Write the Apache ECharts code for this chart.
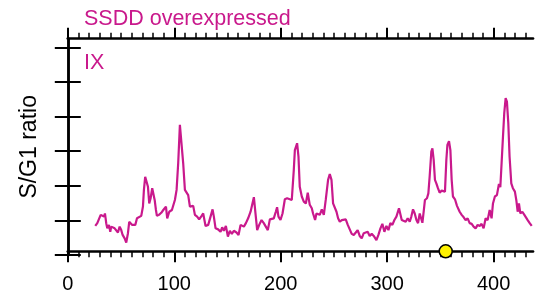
<!DOCTYPE html>
<html>
<head>
<meta charset="utf-8">
<script src="https://cdn.jsdelivr.net/npm/echarts@6/dist/echarts.min.js"></script>
<style>
  html, body { margin: 0; padding: 0; background: #fff; }
  #chart { width: 542px; height: 298px; }
</style>
</head>
<body>
<div id="chart"></div>
<script>
// position along the genome (bins) and S/G1 ratio
var positions = [
  25.8, 27.7, 29.3, 30.9, 32.4, 34, 34.9, 36.1, 37.1, 38.7, 39.9, 40.8, 42.4, 44, 45.5, 47.1, 48.7, 50.2, 51.5, 53.4,
  54.9, 56.5, 57.7, 59, 60.5, 62.1, 63.4, 65, 66.5, 69, 70.6, 71.5, 72.7, 74, 75.3, 76.5, 77.8, 79.3, 80.6, 81.6,
  82.8, 83.7, 85.6, 87.8, 89.7, 92.2, 93.4, 95.3, 97.8, 100.6, 102.2, 103.7, 105.3, 106.9, 108.4, 110, 111.6, 113.1, 114.7, 116.3,
  117.8, 119.4, 121.5, 123.4, 125.7, 127.2, 129.4, 131.9, 134.1, 136, 137.2, 138.8, 141.2, 143.5, 145, 146.6, 148.5, 150.4, 152.2, 154.1,
  156, 158.5, 160.4, 162.3, 164.1, 165.4, 167.3, 169.4, 171.7, 173.2, 174.8, 176.3, 177.9, 179.8, 182, 184.1, 186, 187.9, 189.8, 191.6,
  193.5, 195.4, 196.6, 197.9, 199.8, 201.7, 203.9, 206, 210.4, 212.3, 213.3, 214.2, 215.4, 216.7, 217.9, 219.8, 221.7, 223.6, 225.4, 227.3,
  229.2, 230.4, 232.3, 233.6, 235.1, 236.7, 238.6, 240.5, 242.3, 244.5, 246.1, 247.7, 249.2, 250.8, 252.4, 253.9, 255.5, 257.4, 259.2, 261.1,
  263, 264.8, 266.7, 268.6, 270.5, 272.3, 274.2, 276.1, 278, 279.8, 281.7, 283.6, 285.5, 287.4, 289.9, 291.8, 293.7, 295.5, 297.4, 299.3,
  301.2, 303, 304.9, 306.8, 308.7, 310.2, 311.1, 312.4, 313.7, 315.5, 317.4, 319.3, 321.2, 322.7, 324.3, 325.9, 327.5, 329, 330.6, 331.8,
  333.1, 334.3, 335.5, 337.4, 338.7, 339.9, 341.5, 342.5, 343.7, 344.9, 346.2, 347.7, 349.3, 351.2, 353, 354.3, 355.6, 356.6, 358.1, 359.4,
  360.6, 361.8, 363.7, 365.6, 366.9, 368.1, 370, 371.9, 373.7, 375.6, 377.5, 379.4, 381.2, 383.1, 385, 386.9, 388.7, 390.6, 392.5, 394.4,
  396.3, 398.1, 399.4, 401.2, 403.1, 405, 406.3, 407.5, 408.8, 410, 411.3, 412.5, 413.8, 415, 416.6, 418.1, 420, 421.3, 422.6, 423.8,
  425.1, 427, 428.9, 430.1, 432, 433.9, 435.8
];
var ratios = [
  0.84, 0.92, 0.87, 1.16, 1.2, 1.11, 1.2, 0.92, 0.77, 0.87, 0.67, 0.82, 0.87, 0.77, 0.82, 0.65, 0.82, 0.72, 0.58, 0.48,
  0.36, 0.63, 0.96, 1.01, 0.87, 0.82, 0.87, 1.06, 1.11, 1.13, 1.4, 1.88, 2.26, 2.31, 1.97, 1.49, 1.64, 1.93, 1.93, 1.59,
  1.3, 1.13, 1.16, 1.22, 1.3, 1.4, 1.06, 1.25, 1.3, 1.59, 1.88, 2.65, 3.76, 3.71, 2.65, 1.88, 1.93, 1.73, 1.4, 1.35,
  1.42, 1.16, 1.11, 1.03, 1.13, 1.2, 0.84, 0.87, 1.11, 1.32, 1.11, 0.77, 0.74, 0.67, 0.8, 0.7, 0.84, 0.53, 0.7, 0.61,
  0.7, 0.65, 0.58, 0.87, 0.92, 0.82, 0.92, 1.06, 1.25, 1.45, 1.67, 1.2, 0.72, 0.87, 1.01, 0.92, 0.82, 0.72, 1.03, 1.01,
  1.06, 1.25, 1.38, 1.11, 1.01, 1.2, 1.61, 1.64, 1.59, 2.46, 3.03, 2.99, 3.23, 2.84, 1.97, 1.69, 1.54, 1.49, 1.8, 1.45,
  1.35, 1.2, 1.01, 1.2, 1.25, 1.16, 1.32, 1.16, 1.59, 2.17, 2.34, 2.17, 1.49, 1.54, 1.25, 1.06, 0.96, 1.01, 0.96, 1.03,
  0.87, 0.9, 0.61, 0.58, 0.65, 0.72, 0.55, 0.48, 0.63, 0.61, 0.67, 0.55, 0.61, 0.55, 0.43, 0.58, 0.77, 0.9, 0.67, 0.84,
  0.72, 0.92, 0.87, 1.01, 1.11, 1.16, 1.35, 1.3, 1.01, 1.03, 0.96, 1.06, 0.96, 1.11, 1.32, 1.2, 1.01, 0.92, 1.2, 1.25,
  0.93, 1.25, 1.59, 1.64, 1.78, 2.26, 2.99, 3.08, 2.75, 2.17, 2.07, 1.93, 1.8, 1.86, 1.9, 1.83, 2.75, 3.18, 3.29, 3.03,
  2.17, 1.69, 1.61, 1.42, 1.47, 1.25, 1.16, 1.09, 1.01, 1.06, 0.92, 0.9, 0.82, 0.77, 0.87, 0.84, 0.9, 0.77, 1.06, 1.01,
  1.3, 1.06, 1.49, 1.69, 1.73, 2.05, 1.96, 2.65, 3.42, 4.1, 4.53, 4.43, 3.81, 2.84, 2.07, 1.93, 1.83, 1.59, 1.25, 1.49,
  1.2, 1.25, 1.16, 1.2, 1.01, 0.92, 0.84
];
// origin marker on the axis
var markerX = [355];

var xLabels = [0, 100, 200, 300, 400];
var xMinorTicks = [0, 10, 20, 30, 40, 50, 60, 70, 80, 90, 100, 110, 120, 130, 140, 150, 160, 170, 180, 190,
  200, 210, 220, 230, 240, 250, 260, 270, 280, 290, 300, 310, 320, 330, 340, 350, 360, 370, 380, 390,
  400, 410, 420, 430];
var yTicks = [0, 1, 2, 3, 4, 5, 6];

var magenta = '#C9198C';
var FONT = 'Liberation Sans, Arial, Helvetica, sans-serif';
var X_MIN = 0, X_MAX = 437;
var Y_MIN = 0, Y_MAX = 6.25;
var AXIS_Y = 0.107; // value where the bottom axis line sits

var lineData = positions.map(function (p, i) { return [p, ratios[i]]; });
var markerData = markerX.map(function (x) { return [x, AXIS_Y]; });

var chart = echarts.init(document.getElementById('chart'), null, { renderer: 'canvas' });

function xAxisDef(pos, major, extra) {
    var a = {
        type: 'value',
        position: pos,
        min: X_MIN,
        max: X_MAX,
        splitLine: { show: false },
        axisLine: { show: major, lineStyle: { color: '#000', width: 2.7 } },
        axisTick: {
            show: true,
            inside: false,
            customValues: major ? xLabels : xMinorTicks,
            length: major ? 11 : 6,
            lineStyle: { color: '#000', width: major ? 2 : 1.5 }
        },
        axisLabel: { show: false }
    };
    return Object.assign(a, extra || {});
}

function yAxisDef(pos) {
    return {
        type: 'value',
        position: pos,
        min: Y_MIN,
        max: Y_MAX,
        splitLine: { show: false },
        axisLine: { show: true, lineStyle: { color: '#000', width: 2.5 } },
        axisTick: {
            show: true,
            inside: false,
            customValues: yTicks,
            length: 13,
            lineStyle: { color: '#000', width: 2 }
        },
        axisLabel: { show: false }
    };
}

var option = {
    animation: false,
    backgroundColor: '#fff',
    grid: { left: 67.8, right: 9, top: 38.7, bottom: 43 },
    graphic: [
        { type: 'text', left: 84, top: 8, style: { text: 'SSDD overexpressed', fill: magenta, font: '21.5px ' + FONT } },
        { type: 'text', left: 84, top: 52, style: { text: 'IX', fill: magenta, font: '21.5px ' + FONT } }
    ],
    xAxis: [
        xAxisDef('bottom', true, {
            offset: -3.7,
            axisLabel: {
                show: true,
                customValues: xLabels,
                margin: 23,
                color: '#000',
                fontSize: 20,
                fontFamily: FONT
            }
        }),
        xAxisDef('bottom', false, { offset: -3.7 }),
        xAxisDef('top', true),
        xAxisDef('top', false)
    ],
    yAxis: [
        Object.assign(yAxisDef('left'), {
            name: 'S/G1 ratio',
            nameLocation: 'middle',
            nameGap: 27,
            nameTextStyle: { color: '#000', fontSize: 23, fontFamily: FONT }
        }),
        yAxisDef('right')
    ],
    series: [
        {
            type: 'line',
            xAxisIndex: 0,
            yAxisIndex: 0,
            data: lineData,
            showSymbol: false,
            symbol: 'none',
            lineStyle: { color: magenta, width: 2.2 },
            z: 3
        },
        {
            type: 'scatter',
            xAxisIndex: 0,
            yAxisIndex: 0,
            data: markerData,
            symbol: 'circle',
            symbolSize: 13,
            clip: false,
            itemStyle: { color: '#FFF200', borderColor: '#000', borderWidth: 1.5, opacity: 1 },
            z: 5
        }
    ]
};

chart.setOption(option);
</script>
</body>
</html>
